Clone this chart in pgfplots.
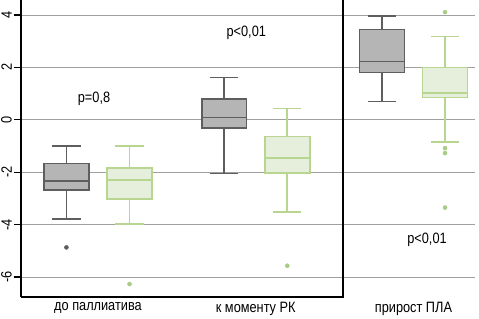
\documentclass[border=0pt]{standalone}
\usepackage{fontspec}
\setmainfont{Liberation Sans}[FakeStretch=0.85]
\usepackage{pgfplots}
\pgfplotsset{compat=1.18}
\usepgfplotslibrary{statistics}
\definecolor{gedge}{HTML}{5E5E5E}
\definecolor{gfill}{HTML}{B5B5B5}
\definecolor{lgedge}{HTML}{B8D690}
\definecolor{lgfill}{HTML}{E6EFDB}
\definecolor{lgout}{HTML}{A9CC84}
\definecolor{gridc}{HTML}{A0A0A0}
\pgfplotsset{
  /pgfplots/boxplot/every whisker/.style={line width=1.6pt},
  /pgfplots/boxplot/every median/.style={line width=1.6pt},
  /pgfplots/boxplot/every box/.style={line width=1.6pt},
}
\begin{document}
\fontsize{15}{18}\selectfont
\begin{tikzpicture}
\begin{axis}[
  scale only axis, width=454pt, height=297pt,
  xmin=-0.488, xmax=2.39, ymin=-6.763, ymax=4.573,
  axis x line*=bottom, axis y line*=left,
  x axis line style={draw=none},
  y axis line style={line width=1.6pt, black},
  ytick={-6,-4,-2,0,2,4},
  ymajorgrids, grid style={gridc, line width=0.8pt},
  tick align=outside, major tick length=7pt,
  y tick style={black, line width=1.2pt},
  x tick style={draw=none},
  yticklabel style={rotate=90, anchor=south, font=\fontsize{15}{18}\selectfont},
  yticklabel shift=-3pt,
  xtick={0,1,2},
  xticklabels={до паллиатива, к моменту РК, прирост ПЛА},
  xticklabel style={font=\fontsize{15}{18}\selectfont},
  xticklabel shift=-7pt,
  /pgf/number format/assume math mode=true,
  clip=false,
  boxplot/draw direction=y,
  boxplot/box extend=0.285,
  boxplot/whisker extend=0.18,
  graybox/.style={draw=gedge, fill=gfill, line width=1.6pt, solid, mark=*, mark size=2pt, mark options={fill=gedge, draw=gedge, line width=0.5pt}},
  greenbox/.style={draw=lgedge, fill=lgfill, line width=1.6pt, solid, mark=*, mark size=2pt, mark options={fill=lgout, draw=lgout, line width=0.5pt}},
]
\coordinate (SW) at (rel axis cs:0,0);
\coordinate (NE) at (rel axis cs:1,1);
% group 1
\addplot[graybox, boxplot prepared={draw position=-0.2, lower whisker=-3.79, lower quartile=-2.67, median=-2.33, upper quartile=-1.67, upper whisker=-0.99}] coordinates {(0,-4.87)};
\addplot[greenbox, boxplot prepared={draw position=0.2, lower whisker=-3.98, lower quartile=-3.03, median=-2.30, upper quartile=-1.85, upper whisker=-1.00}] coordinates {(0,-6.27)};
% group 2
\addplot[graybox, boxplot prepared={draw position=0.8, lower whisker=-2.05, lower quartile=-0.32, median=0.09, upper quartile=0.80, upper whisker=1.62}] coordinates {};
\addplot[greenbox, boxplot prepared={draw position=1.2, lower whisker=-3.52, lower quartile=-2.04, median=-1.45, upper quartile=-0.64, upper whisker=0.43}] coordinates {(0,-5.57)};
% group 3
\addplot[graybox, boxplot prepared={draw position=1.8, lower whisker=0.70, lower quartile=1.81, median=2.23, upper quartile=3.45, upper whisker=3.97}] coordinates {};
\addplot[greenbox, boxplot prepared={draw position=2.2, lower whisker=-0.85, lower quartile=0.85, median=1.02, upper quartile=2.00, upper whisker=3.18}] coordinates {(0,4.11) (0,-1.08) (0,-1.27) (0,-3.35)};
\draw[line width=1.6pt, black] (axis cs:-0.488,-6.763) -- (axis cs:1.553,-6.763) -- (axis cs:1.553,4.573);
\node at (axis cs:-0.025,0.79) {p=0,8};
\node at (axis cs:0.94,3.31) {p<0,01};
\node at (axis cs:2.086,-4.59) {p<0,01};
\end{axis}
\pgfresetboundingbox
\path ([shift={(-21pt,-22pt)}]SW) rectangle ([shift={(4pt,0pt)}]NE);
\end{tikzpicture}
\end{document}
